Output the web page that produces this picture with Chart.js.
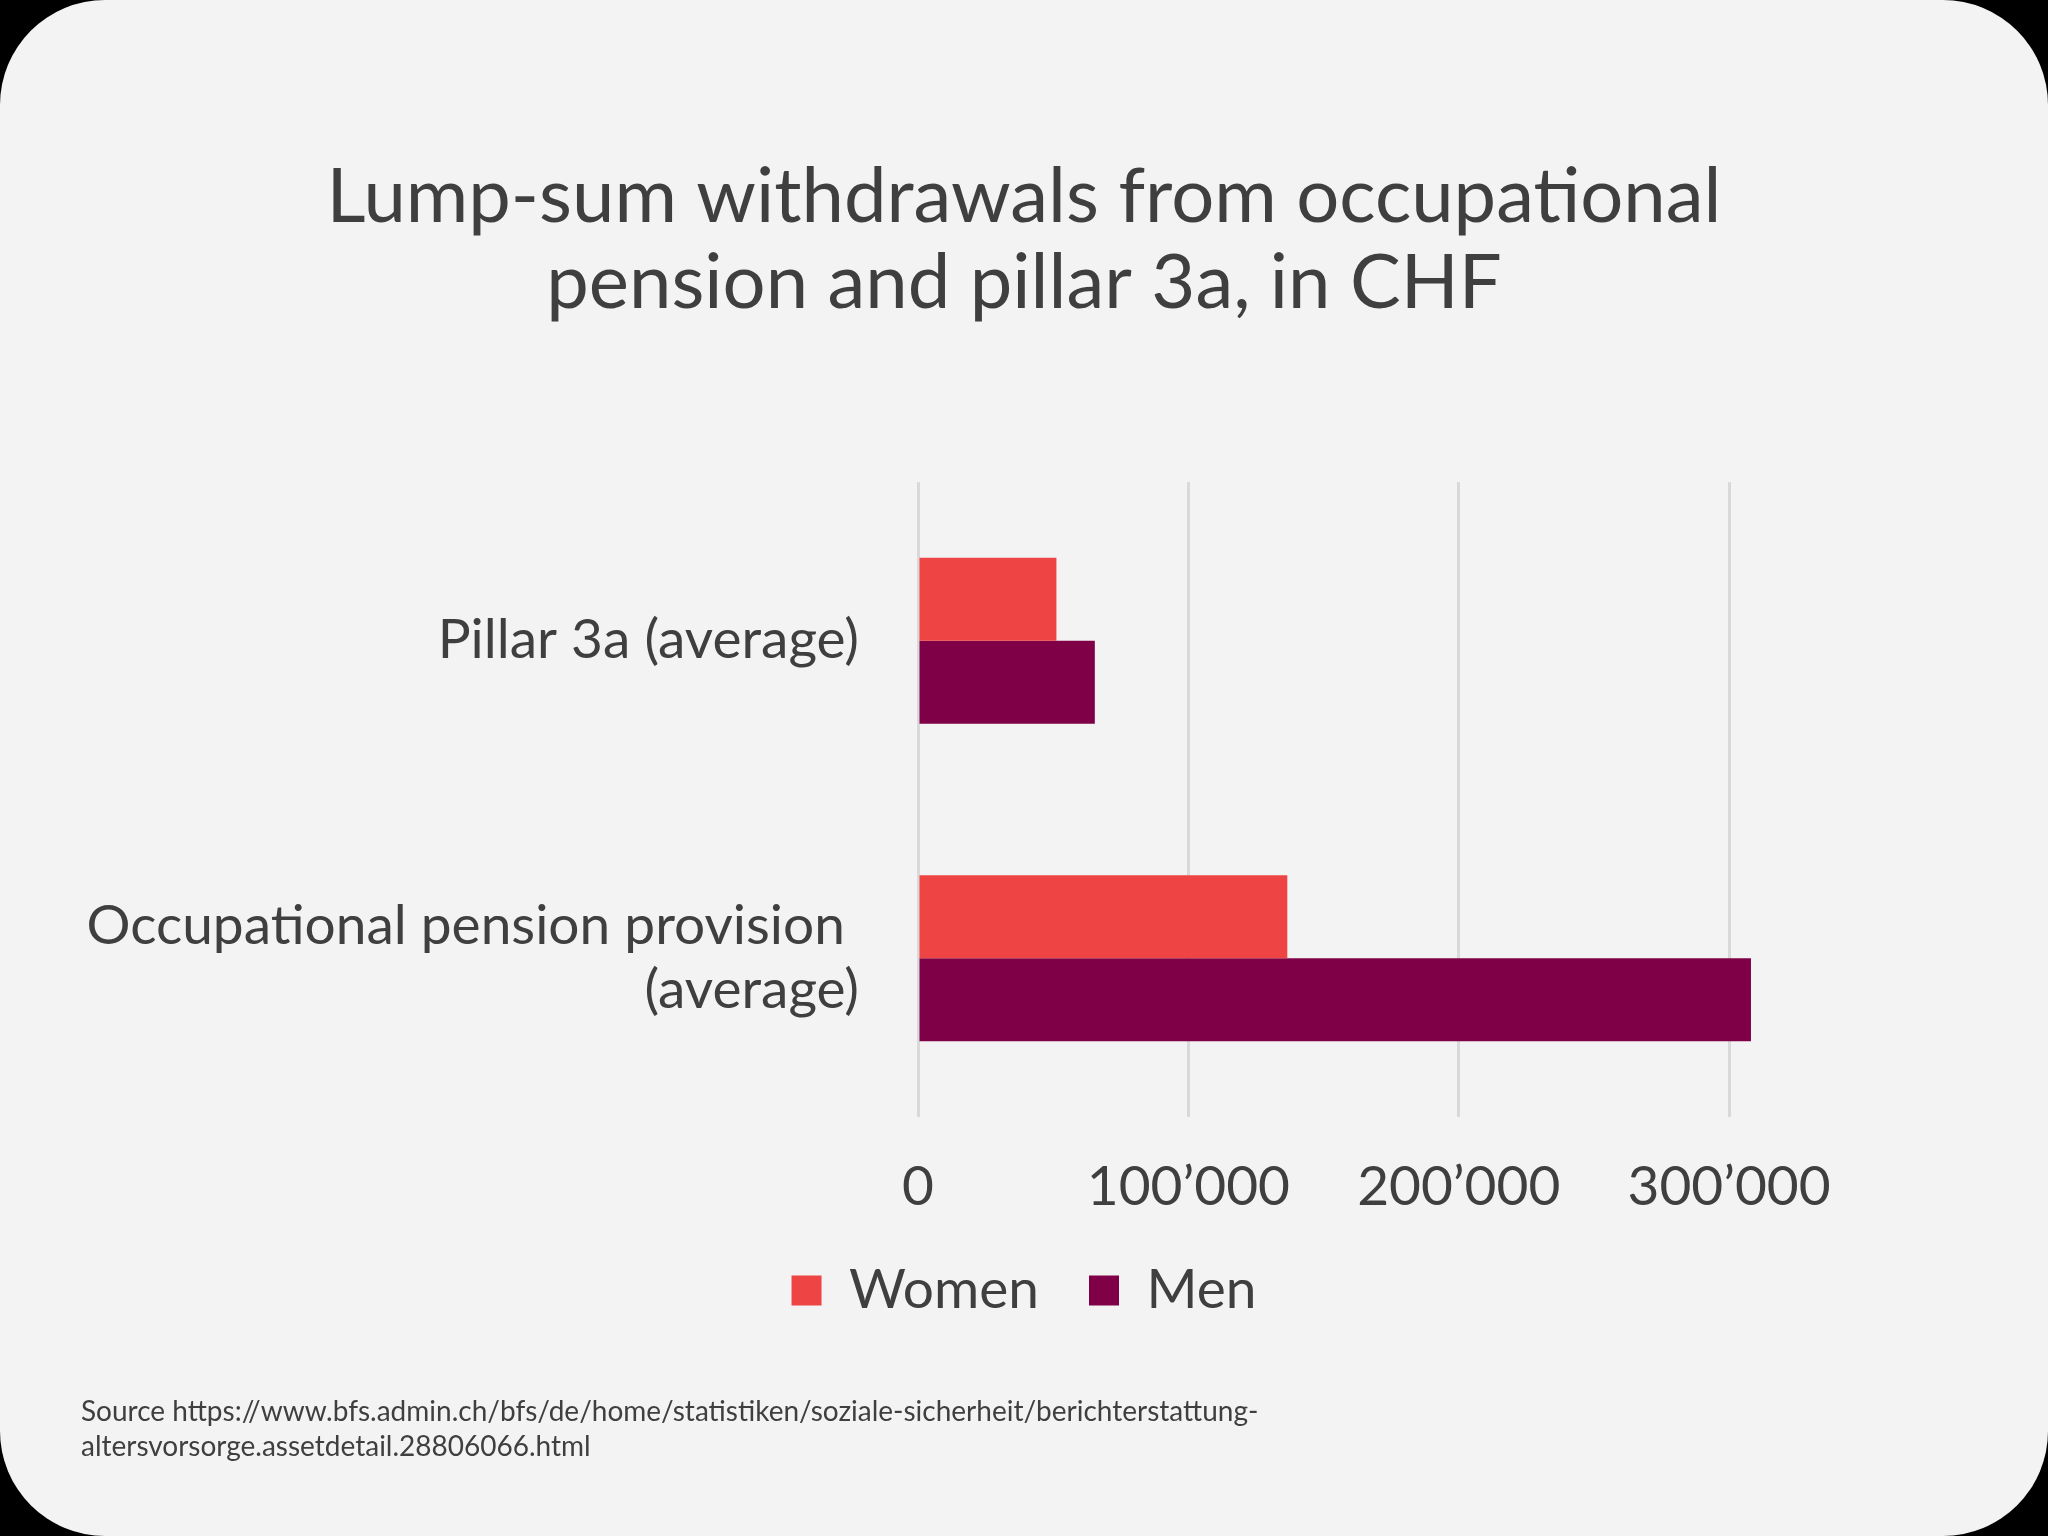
<!DOCTYPE html>
<html>
<head>
  <title>Lump-sum withdrawals</title>
  <script src="https://cdn.jsdelivr.net/npm/chart.js"></script>
  <style>
    html, body { margin: 0; padding: 0; background: #000; }
    .card {
      width: 2048px; height: 1536px; background: #f3f3f3;
      border-radius: 105px; overflow: hidden; position: relative;
    }
    canvas { display: block; }
  </style>
</head>
<body>

<div class="card">
  <canvas id="chart" width="2048" height="1536"></canvas>
</div>

<script>
const categories = ['Pillar 3a (average)', ['Occupational pension provision ', '(average)']];
const seriesNames = ['Women', 'Men'];
const women = [51200, 136600];
const men = [65400, 308100];
const xTicks = [0, 100000, 200000, 300000];
const titleLines = ['Lump-sum withdrawals from occupational', 'pension and pillar 3a, in CHF'];
const sourceLines = [
  'Source https://www.bfs.admin.ch/bfs/de/home/statistiken/soziale-sicherheit/berichterstattung-',
  'altersvorsorge.assetdetail.28806066.html'
];

const FONT = 'Lato';
const TEXT = '#3f3f3f';

function fmt(v) {
  return String(v).replace(/\B(?=(\d{3})+(?!\d))/g, '\u2019');
}

new Chart(document.getElementById('chart'), {
  type: 'bar',
  data: {
    labels: categories,
    datasets: [
      { label: seriesNames[0], data: women, backgroundColor: '#EF4444' },
      { label: seriesNames[1], data: men, backgroundColor: '#7F0047' }
    ]
  },
  options: {
    indexAxis: 'y',
    responsive: false,
    animation: false,
    devicePixelRatio: 1,
    datasets: { bar: { barPercentage: 1, categoryPercentage: 0.523 } },
    layout: { padding: { left: 81, right: 81, top: 0, bottom: 0 } },
    scales: {
      x: {
        min: 0,
        max: 388000,
        afterBuildTicks: s => { s.ticks = xTicks.map(v => ({ value: v })); },
        afterFit: s => { s.height = 96; },
        grid: { color: '#d9d9d9', lineWidth: 3, drawTicks: false },
        border: { display: false },
        ticks: {
          padding: 37,
          color: TEXT,
          font: { family: FONT, size: 55, lineHeight: 1.2 },
          callback: v => fmt(v)
        }
      },
      y: {
        grid: { display: false },
        border: { display: false },
        afterFit: s => { s.width = 918 - 81; },
        ticks: {
          padding: 51,
          color: TEXT,
          font: { family: FONT, size: 55, lineHeight: 1.18 }
        }
      }
    },
    plugins: {
      title: {
        display: true,
        text: titleLines,
        color: TEXT,
        font: { family: FONT, size: 76, weight: 'normal', lineHeight: 1.14 },
        padding: { top: 154, bottom: 154.7 }
      },
      subtitle: {
        display: true,
        position: 'bottom',
        align: 'start',
        text: sourceLines,
        color: TEXT,
        font: { family: FONT, size: 28, weight: 'normal', lineHeight: 1.25 },
        padding: { top: 66.5, bottom: 71.5 }
      },
      legend: {
        position: 'bottom',
        labels: {
          color: TEXT,
          boxWidth: 30,
          boxHeight: 30,
          padding: 50,
          font: { family: FONT, size: 55 }
        }
      },
      tooltip: { enabled: false }
    }
  }
});
</script>
</body>
</html>
